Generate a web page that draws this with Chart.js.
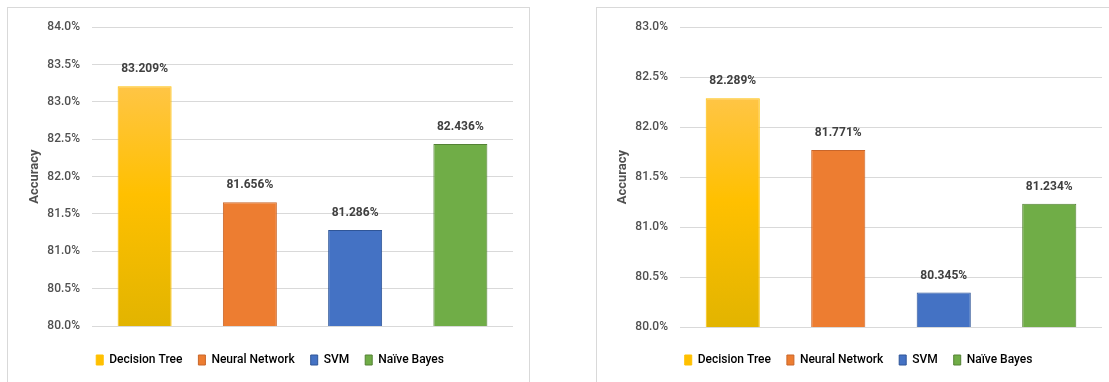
<!DOCTYPE html>
<html>
<head>
<meta charset="utf-8">
<script src="https://cdn.jsdelivr.net/npm/chart.js@4.4.1/dist/chart.umd.min.js"></script>
<style>
  html, body { margin: 0; padding: 0; background: #fff; overflow: hidden; }
  body { width: 1109px; height: 382px; position: relative; }
  .panel { position: absolute; top: 7px; height: 400px; border: 1px solid #d9d9d9; box-sizing: border-box; }
  #panel-left { left: 7px; width: 523px; }
  #panel-right { left: 596px; width: 540px; }
  .holder { position: absolute; top: 8px; height: 374px; }
  #holder-left { left: 8px; width: 520px; }
  #holder-right { left: 597px; width: 526px; }
</style>
</head>
<body>
<div class="panel" id="panel-left"></div>
<div class="panel" id="panel-right"></div>
<div class="holder" id="holder-left"><canvas id="chart-left"></canvas></div>
<div class="holder" id="holder-right"><canvas id="chart-right"></canvas></div>
<script>
// classifiers and their accuracy (%) for the two runs
const methods = ['Decision Tree', 'Neural Network', 'SVM', 'Naïve Bayes'];
const accuracyLeft = [83.209, 81.656, 81.286, 82.436];
const accuracyRight = [82.289, 81.771, 80.345, 81.234];

// y axis range for each chart
const rangeLeft = [80, 84];
const rangeRight = [80, 83];
const tickStep = 0.5;

const fillColors = ['#ffc000', '#ed7d31', '#4472c4', '#70ad47'];
const borderColors = ['#ffc000', '#c9662a', '#2f5597', '#548235'];

const FONT = "Roboto, 'Liberation Sans', sans-serif";
const TEXT = '#505050';
Chart.defaults.font.family = FONT;
Chart.defaults.font.size = 12;
Chart.defaults.color = TEXT;

// writes the value above each bar
const valueLabels = {
    id: 'valueLabels',
    afterDatasetsDraw(chart) {
        const ctx = chart.ctx;
        const meta = chart.getDatasetMeta(0);
        const values = chart.data.datasets[0].data;
        ctx.save();
        ctx.font = `bold 12px ${FONT}`;
        ctx.fillStyle = '#404040';
        ctx.textAlign = 'center';
        ctx.textBaseline = 'middle';
        meta.data.forEach((bar, i) => {
            ctx.fillText(values[i].toFixed(3) + '%', bar.x, bar.y - 17);
        });
        ctx.restore();
    }
};

// first bar gets the yellow shading, darker toward the base
function barFill(context) {
    const i = context.dataIndex;
    const chart = context.chart;
    if (i !== 0 || !chart.chartArea) return fillColors[i];
    const y = chart.scales.y;
    const top = y.getPixelForValue(context.raw);
    const g = chart.ctx.createLinearGradient(0, top, 0, chart.chartArea.bottom);
    g.addColorStop(0, '#ffc545');
    g.addColorStop(0.45, '#ffc000');
    g.addColorStop(1, '#e2b400');
    return g;
}

function makeChart(canvasId, values, range, pad) {
    return new Chart(document.getElementById(canvasId), {
        type: 'bar',
        data: {
            labels: methods,
            datasets: [{
                data: values,
                backgroundColor: barFill,
                borderColor: borderColors,
                borderWidth: 1,
                borderSkipped: false,
                barPercentage: 0.513,
                categoryPercentage: 1
            }]
        },
        options: {
            responsive: true,
            maintainAspectRatio: false,
            animation: false,
            layout: { padding: pad },
            plugins: {
                tooltip: { enabled: false },
                legend: {
                    position: 'bottom',
                    labels: {
                        boxWidth: 7,
                        boxHeight: 10,
                        padding: 16,
                        color: TEXT,
                        font: { size: 12, weight: '500' },
                        generateLabels: () => methods.map((m, i) => ({
                            text: m,
                            fillStyle: fillColors[i],
                            strokeStyle: borderColors[i],
                            lineWidth: 1,
                            hidden: false,
                            index: i
                        }))
                    }
                }
            },
            scales: {
                x: {
                    ticks: { display: false },
                    grid: { display: false },
                    border: { display: false },
                    afterFit: (scale) => { scale.height = pad.gap; }
                },
                y: {
                    min: range[0],
                    max: range[1],
                    ticks: {
                        stepSize: tickStep,
                        padding: 12,
                        color: TEXT,
                        font: { size: 12, weight: '500' },
                        callback: (v) => v.toFixed(1) + '%'
                    },
                    grid: { color: '#d9d9d9', lineWidth: 1, drawTicks: false },
                    border: { display: false },
                    title: {
                        display: true,
                        text: 'Accuracy',
                        color: TEXT,
                        padding: 0,
                        font: { size: 13, weight: 'bold' }
                    },
                    afterFit: (scale) => { scale.width = pad.axis; }
                }
            }
        },
        plugins: [valueLabels]
    });
}

window.onload = () => {
    makeChart('chart-left', accuracyLeft, rangeLeft, { left: 19.2, right: 15, top: 19, bottom: 6, axis: 64.8, gap: 12 });
    makeChart('chart-right', accuracyRight, rangeRight, { left: 18.2, right: 21, top: 19, bottom: 6, axis: 64.8, gap: 11 });
};
</script>
</body>
</html>
